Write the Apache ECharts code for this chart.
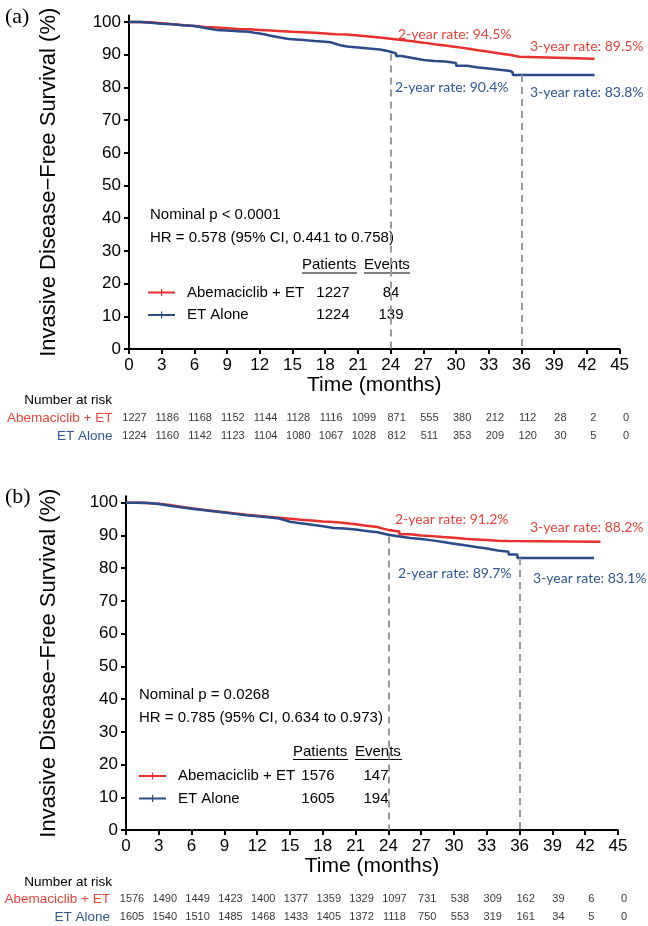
<!DOCTYPE html>
<html>
<head>
<meta charset="utf-8">
<script src="https://cdn.jsdelivr.net/npm/echarts@6/dist/echarts.min.js"></script>
<style>
  html, body { margin: 0; padding: 0; background: #fff; }
  #chart { width: 648px; height: 926px; }
</style>
</head>
<body>
<div id="chart"></div>
<script>
// -------------------------
// Kaplan-Meier IDFS panels (a) and (b)
// -------------------------

// Colors
const redColor = '#e8302c';
const blueColor = '#2b4a88';
const redText = '#e8443a';
const blueText = '#2f5694';

// Axes
const xTicks = [0, 3, 6, 9, 12, 15, 18, 21, 24, 27, 30, 33, 36, 39, 42, 45];
const yTicks = [0, 10, 20, 30, 40, 50, 60, 70, 80, 90, 100];
const armNames = ['Abemaciclib + ET', 'ET Alone'];

// Panel (a) curves: months / survival %
const topAbemaT = [0, 1, 2, 3, 4, 5, 6, 7, 8, 9, 10, 11, 12, 13, 14, 15, 16, 17, 18, 19, 20, 21, 22, 23, 24, 25, 26, 27, 28, 29, 30, 31, 32, 33, 34, 35, 35.8, 42.7];
const topAbemaS = [100, 99.9, 99.6, 99.3, 99.0, 98.8, 98.5, 98.3, 98.1, 97.9, 97.8, 97.6, 97.4, 97.2, 97.0, 96.9, 96.7, 96.5, 96.3, 96.2, 95.9, 95.6, 95.3, 94.9, 94.5, 94.1, 93.7, 93.2, 92.8, 92.4, 91.9, 91.4, 90.9, 90.4, 89.9, 89.4, 88.8, 88.8];
const topEtT = [0, 1, 2, 3, 4, 5, 6, 6.5, 7, 7.5, 8, 9, 10, 11, 11.5, 12, 12.5, 13, 13.5, 14, 14.5, 15, 16, 17, 18, 18.5, 19, 19.5, 20, 21, 22, 23, 23.5, 24, 24.5, 25, 26, 27, 28, 29, 30, 31, 32, 33, 34, 35, 35.2, 42.7];
const topEtS = [100, 99.8, 99.5, 99.3, 99.0, 98.8, 98.5, 98.2, 97.9, 97.6, 97.4, 97.2, 97.0, 96.7, 96.5, 96.2, 95.8, 95.5, 95.2, 94.9, 94.7, 94.5, 94.2, 94.0, 93.8, 93.3, 92.8, 92.5, 92.2, 91.9, 91.6, 91.3, 90.9, 90.4, 89.6, 89.0, 88.4, 88.1, 87.9, 87.5, 86.6, 86.1, 85.8, 85.4, 85.0, 84.6, 83.8, 83.8];

// Panel (b) curves
const botAbemaT = [0, 1, 2, 3, 4, 5, 6, 7, 8, 9, 10, 11, 12, 13, 14, 15, 16, 17, 18, 19, 20, 21, 22, 23, 23.5, 24, 25, 26, 27, 28, 29, 30, 31, 32, 33, 34, 35, 43.4];
const botAbemaS = [100, 99.9, 99.7, 99.3, 98.8, 98.3, 97.9, 97.5, 97.1, 96.7, 96.3, 96.0, 95.7, 95.4, 95.1, 94.8, 94.6, 94.3, 94.1, 93.8, 93.4, 93.0, 92.6, 92.1, 91.7, 91.2, 90.4, 90.0, 89.8, 89.5, 89.3, 89.0, 88.8, 88.6, 88.4, 88.3, 88.1, 88.1];
const botEtT = [0, 1, 2, 3, 4, 5, 6, 7, 8, 9, 10, 11, 12, 13, 14, 14.5, 15, 16, 17, 18, 19, 20, 21, 22, 23, 23.5, 24, 25, 26, 27, 28, 29, 30, 31, 32, 33, 34, 35, 35.8, 42.8];
const botEtS = [100, 99.9, 99.6, 99.1, 98.6, 98.2, 97.8, 97.4, 97.0, 96.6, 96.2, 95.9, 95.6, 95.2, 94.7, 94.2, 93.7, 93.3, 92.8, 92.3, 92.1, 91.8, 91.4, 91.0, 90.6, 90.2, 89.7, 89.2, 88.9, 88.5, 88.0, 87.5, 87.0, 86.5, 86.0, 85.4, 85.0, 84.2, 83.1, 83.1];

// Landmark rates (24 and 36 months)
const rateMonths = [24, 36];
const topRatesAbema = [94.5, 89.5];
const topRatesEt = [90.4, 83.8];
const botRatesAbema = [91.2, 88.2];
const botRatesEt = [89.7, 83.1];

// Legend table
const topPatients = [1227, 1224];
const topEvents = [84, 139];
const botPatients = [1576, 1605];
const botEvents = [147, 194];

// Number at risk
const topRiskAbema = [1227, 1186, 1168, 1152, 1144, 1128, 1116, 1099, 871, 555, 380, 212, 112, 28, 2, 0];
const topRiskEt = [1224, 1160, 1142, 1123, 1104, 1080, 1067, 1028, 812, 511, 353, 209, 120, 30, 5, 0];
const botRiskAbema = [1576, 1490, 1449, 1423, 1400, 1377, 1359, 1329, 1097, 731, 538, 309, 162, 39, 6, 0];
const botRiskEt = [1605, 1540, 1510, 1485, 1468, 1433, 1405, 1372, 1118, 750, 553, 319, 161, 34, 5, 0];

const topStats = ['Nominal p < 0.0001', 'HR = 0.578 (95% CI, 0.441 to 0.758)'];
const botStats = ['Nominal p = 0.0268', 'HR = 0.785 (95% CI, 0.634 to 0.973)'];

// ----------------------
// Helpers
// ----------------------
const sans = '"Liberation Sans", Arial, sans-serif';
const rateFont = 'Lato, "Liberation Sans", sans-serif';

function zip(t, s) {
	return t.map((v, i) => [v, s[i]]);
}

function kmXAxis(gridIndex, nameGap) {
	return {
		gridIndex, type: 'value', min: 0, max: 45,
		name: 'Time (months)', nameLocation: 'middle', nameGap,
		nameTextStyle: { fontFamily: sans, fontSize: 21, color: '#000' },
		axisLine: { lineStyle: { color: '#000', width: 2 } },
		axisTick: { customValues: xTicks, length: 5, lineStyle: { color: '#000', width: 2 } },
		axisLabel: { customValues: xTicks, margin: 8, fontFamily: sans, fontSize: 17, color: '#000' },
		splitLine: { show: false }
	};
}

function kmYAxis(gridIndex, nameGap) {
	return {
		gridIndex, type: 'value', min: 0, max: 102,
		name: 'Invasive Disease\u2212Free Survival (%)', nameLocation: 'middle', nameGap,
		nameTextStyle: { fontFamily: sans, fontSize: 22, color: '#000' },
		axisLine: { show: true, lineStyle: { color: '#000', width: 2 } },
		axisTick: { show: true, customValues: yTicks, length: 5, lineStyle: { color: '#000', width: 2 } },
		axisLabel: { customValues: yTicks, margin: 8, fontFamily: sans, fontSize: 17, color: '#000' },
		splitLine: { show: false }
	};
}

function riskXAxis(gridIndex) {
	return { gridIndex, type: 'value', min: 0, max: 45, show: false };
}

function riskYAxis(gridIndex) {
	return {
		gridIndex, type: 'category', data: armNames, inverse: true,
		axisLine: { show: false }, axisTick: { show: false },
		axisLabel: {
			margin: 22,
			formatter: v => (v === armNames[0] ? '{r|' + v + '}' : '{b|' + v + '}'),
			rich: {
				r: { color: redText, fontFamily: sans, fontSize: 13.5 },
				b: { color: blueText, fontFamily: sans, fontSize: 13.5 }
			}
		}
	};
}

function curve(name, color, xi, t, s, dashValues) {
	const ser = {
		name, type: 'line', step: 'end', xAxisIndex: xi, yAxisIndex: xi,
		showSymbol: false, symbol: 'none', silent: true,
		lineStyle: { color, width: 2.5 }, itemStyle: { color },
		data: zip(t, s), z: 3
	};
	if (dashValues) {
		ser.markLine = {
			symbol: 'none', silent: true, label: { show: false },
			lineStyle: { color: '#9a9a9a', type: [7, 5], width: 2 },
			data: rateMonths.map((m, i) => [{ coord: [m, dashValues[i]] }, { coord: [m, 0] }])
		};
	}
	return ser;
}

function riskSeries(xi, abema, et) {
	const data = xTicks.map((m, i) => [m, armNames[0], abema[i]])
		.concat(xTicks.map((m, i) => [m, armNames[1], et[i]]));
	return {
		type: 'scatter', xAxisIndex: xi, yAxisIndex: xi, symbolSize: 0, silent: true,
		data,
		label: { show: true, position: 'inside', formatter: p => String(p.value[2]), fontFamily: sans, fontSize: 11, color: '#000' }
	};
}

function kmLegend(left, top, names, patients, events, nameWidth) {
	return {
		data: names, orient: 'vertical', left, top, padding: 0, itemGap: 4.5,
		itemWidth: 27, itemHeight: 8, selectedMode: false,
		icon: 'path://M0,3h27v2h-27z M13,0.5h1.2v7h-1.2z',
		textStyle: {
			fontFamily: sans, fontSize: 15, color: '#000', lineHeight: 18,
			rich: {
				g: { width: 7 },
				n: { width: nameWidth, fontFamily: sans, fontSize: 15, color: '#000' },
				p: { width: 40, align: 'center', fontFamily: sans, fontSize: 15, color: '#000' },
				g2: { width: 18 },
				e: { width: 40, align: 'center', fontFamily: sans, fontSize: 15, color: '#000' }
			}
		},
		formatter: n => {
			const i = names.indexOf(n);
			return '{g|}{n|' + armNames[i] + '}{p|' + patients[i] + '}{g2|}{e|' + events[i] + '}';
		}
	};
}

function at(x, y, text, color, font, size) {
	return {
		type: 'text', x, y, silent: true,
		style: { text, fill: color, font: size + 'px ' + font, align: 'left', verticalAlign: 'middle' }
	};
}

function rightTxt(x, y, text, color, font, size) {
	return {
		type: 'text', x, y, silent: true,
		style: { text, fill: color, font: size + 'px ' + font, align: 'right', verticalAlign: 'middle' }
	};
}

function underline(x1, x2, y) {
	return { type: 'line', silent: true, shape: { x1, y1: y, x2, y2: y }, style: { stroke: '#000', lineWidth: 1.2 } };
}

const rateLabel = (yrs, v) => yrs + '-year rate: ' + v.toFixed(1) + '%';

// ----------------------
// Build chart
// ----------------------
const chart = echarts.init(document.getElementById('chart'), null, { renderer: 'canvas' });

const option = {
	animation: false,
	grid: [
		{ left: 129, right: 28.4, top: 15.5, bottom: 577 },
		{ left: 134.5, right: 22, top: 409, height: 36 },
		{ left: 126, right: 30, top: 496.2, bottom: 96 },
		{ left: 132, right: 24, top: 890, height: 36 }
	],
	xAxis: [kmXAxis(0, 23), riskXAxis(1), kmXAxis(2, 24), riskXAxis(3)],
	yAxis: [kmYAxis(0, 69), riskYAxis(1), kmYAxis(2, 66), riskYAxis(3)],
	legend: [
		kmLegend(148, 283.5, ['a-abema', 'a-et'], topPatients, topEvents, 126),
		kmLegend(139, 767, ['b-abema', 'b-et'], botPatients, botEvents, 120)
	],
	series: [
		curve('a-abema', redColor, 0, topAbemaT, topAbemaS, null),
		curve('a-et', blueColor, 0, topEtT, topEtS, topRatesEt),
		riskSeries(1, topRiskAbema, topRiskEt),
		curve('b-abema', redColor, 2, botAbemaT, botAbemaS, null),
		curve('b-et', blueColor, 2, botEtT, botEtS, botRatesEt),
		riskSeries(3, botRiskAbema, botRiskEt)
	],
	graphic: [
		at(5, 17, '(a)', '#000', '"Liberation Serif", serif', 22),
		at(5, 497, '(b)', '#000', '"Liberation Serif", serif', 22),
		// panel (a) annotations
		at(398, 34, rateLabel(2, topRatesAbema[0]), redText, rateFont, 14),
		at(530, 46, rateLabel(3, topRatesAbema[1]), redText, rateFont, 14),
		at(395, 87, rateLabel(2, topRatesEt[0]), blueText, rateFont, 14),
		at(530, 92, rateLabel(3, topRatesEt[1]), blueText, rateFont, 14),
		at(150, 215, topStats[0], '#000', sans, 15),
		at(150, 238, topStats[1], '#000', sans, 15),
		at(302, 265, 'Patients', '#000', sans, 15),
		at(364, 265, 'Events', '#000', sans, 15),
		underline(302, 357, 273),
		underline(364, 410, 273),
		rightTxt(112, 400, 'Number at risk', '#000', sans, 13.5),
		// panel (b) annotations
		at(395, 519, rateLabel(2, botRatesAbema[0]), redText, rateFont, 14),
		at(530, 527, rateLabel(3, botRatesAbema[1]), redText, rateFont, 14),
		at(398, 573, rateLabel(2, botRatesEt[0]), blueText, rateFont, 14),
		at(533, 578, rateLabel(3, botRatesEt[1]), blueText, rateFont, 14),
		at(139, 695, botStats[0], '#000', sans, 15),
		at(139, 718, botStats[1], '#000', sans, 15),
		at(293, 751.5, 'Patients', '#000', sans, 15),
		at(355, 751.5, 'Events', '#000', sans, 15),
		underline(293, 348, 759.5),
		underline(355, 402, 759.5),
		rightTxt(112, 882, 'Number at risk', '#000', sans, 13.5)
	]
};

chart.setOption(option);
</script>
</body>
</html>
